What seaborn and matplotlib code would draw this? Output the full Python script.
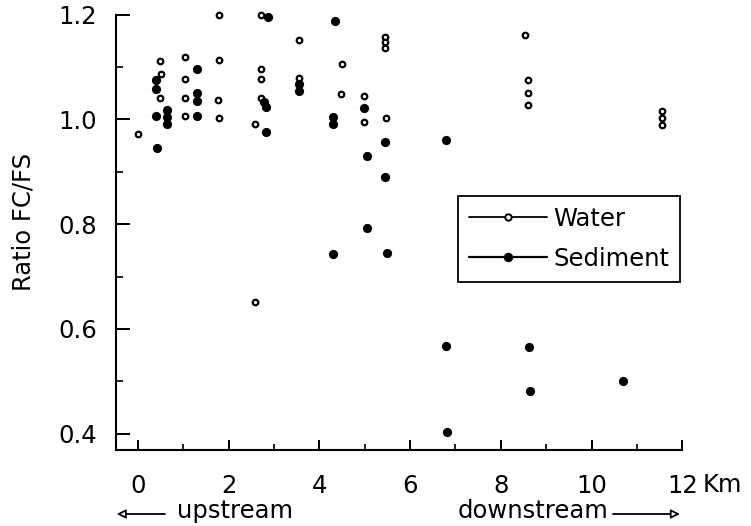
import seaborn as sns
import matplotlib.pyplot as plt
from matplotlib.lines import Line2D
from matplotlib.ticker import MultipleLocator

# distance along the river (km) and FC/FS ratio
water_km = [0.0, 0.48, 0.51, 0.48, 1.03, 1.03, 1.03, 1.03,
            1.80, 1.79, 1.77, 1.78, 2.58, 2.59, 2.71, 2.71, 2.71, 2.71,
            3.56, 3.55, 4.50, 4.47, 4.99, 4.99,
            5.45, 5.45, 5.45, 5.46, 8.54, 8.61, 8.61, 8.61,
            11.56, 11.56, 11.56]
water_ratio = [0.973, 1.112, 1.087, 1.041, 1.119, 1.078, 1.040, 1.007,
               1.199, 1.113, 1.037, 1.003, 0.991, 0.651, 1.200, 1.096, 1.077, 1.040,
               1.152, 1.080, 1.105, 1.049, 1.045, 0.995,
               1.157, 1.147, 1.136, 1.002, 1.161, 1.075, 1.051, 1.028,
               1.017, 1.003, 0.990]

sed_km = [0.39, 0.39, 0.40, 0.42, 0.65, 0.65, 0.65,
          1.31, 1.31, 1.31, 1.31, 2.86, 2.78, 2.82, 2.82,
          3.55, 3.55, 4.34, 4.31, 4.31, 4.31,
          4.99, 5.05, 5.05, 5.44, 5.44, 5.49,
          6.79, 6.80, 6.82, 8.62, 8.64, 10.69]
sed_ratio = [1.075, 1.058, 1.007, 0.945, 1.018, 1.005, 0.992,
             1.096, 1.050, 1.036, 1.007, 1.195, 1.034, 1.023, 0.976,
             1.068, 1.055, 1.188, 1.005, 0.991, 0.744,
             1.022, 0.930, 0.792, 0.956, 0.891, 0.746,
             0.961, 0.567, 0.404, 0.565, 0.481, 0.500]

x_ticks = [0, 2, 4, 6, 8, 10, 12]
x_labels = ['0', '2', '4', '6', '8', '10', '12']
y_ticks = [0.4, 0.6, 0.8, 1.0, 1.2]
y_labels = ['0.4', '0.6', '0.8', '1.0', '1.2']

sns.set_style('ticks')
plt.rcParams['font.family'] = ['DejaVu Sans']
plt.rcParams['text.color'] = 'black'
plt.rcParams['axes.labelcolor'] = 'black'
plt.rcParams['xtick.color'] = 'black'
plt.rcParams['ytick.color'] = 'black'
fs = 17.5

fig = plt.figure(figsize=(7.51, 5.26), dpi=100)
ax = fig.add_axes([0.1545, 0.1445, 0.754, 0.8276])

sns.scatterplot(x=water_km, y=water_ratio, marker='o', s=16, color='black',
                facecolor='white', edgecolor='black', linewidth=1.6,
                clip_on=False, zorder=3, ax=ax, legend=False)
sns.scatterplot(x=sed_km, y=sed_ratio, marker='o', s=44, color='black',
                edgecolor='black', linewidth=0, clip_on=False, zorder=3,
                ax=ax, legend=False)

ax.set_xlim(-0.48, 12)
ax.set_ylim(0.369, 1.2)
ax.set_xticks(x_ticks)
ax.set_xticklabels(x_labels)
ax.set_yticks(y_ticks)
ax.set_yticklabels(y_labels)
ax.xaxis.set_minor_locator(MultipleLocator(1))
ax.yaxis.set_minor_locator(MultipleLocator(0.1))

ax.tick_params(axis='x', which='major', direction='in', length=7, width=1.4,
               pad=17, labelsize=fs)
ax.tick_params(axis='x', which='minor', direction='in', length=4, width=1.2)
ax.tick_params(axis='y', which='major', direction='in', length=10, width=1.4,
               pad=13.5, labelsize=fs)
ax.tick_params(axis='y', which='minor', direction='in', length=5, width=1.2)

for s in ['top', 'right']:
    ax.spines[s].set_visible(False)
for s in ['left', 'bottom']:
    ax.spines[s].set_linewidth(1.5)
    ax.spines[s].set_color('black')

ax.set_ylabel('Ratio FC/FS', fontsize=fs)
ax.yaxis.set_label_coords(-0.142, 0.5245)

handles = [
    Line2D([], [], color='black', lw=1.3, marker='o', ms=4.6, mfc='white',
           mec='black', mew=1.4),
    Line2D([], [], color='black', lw=1.6, marker='o', ms=6.8, mfc='black',
           mec='black', mew=0),
]
leg = ax.legend(handles, ['Water', 'Sediment'], loc='center',
                bbox_to_anchor=(0.80, 0.485), fontsize=fs, frameon=True,
                fancybox=False, framealpha=1, edgecolor='black',
                handlelength=3.2, handletextpad=0.25, labelspacing=0.65,
                borderpad=0.45)
leg.get_frame().set_linewidth(1.3)

# unit and direction annotations under the x axis
fig.text(703 / 751, 1 - 492.5 / 526, 'Km', fontsize=fs, ha='left', va='baseline')
fig.text(176.7 / 751, 1 - 518 / 526, 'upstream', fontsize=fs, ha='left', va='baseline')
fig.text(608 / 751, 1 - 518 / 526, 'downstream', fontsize=fs, ha='right', va='baseline')

ya = 1 - 514 / 526
arrow = dict(arrowstyle='-|>', fc='white', ec='black', lw=1.3,
             mutation_scale=13, shrinkA=0, shrinkB=0)
ax.annotate('', xy=(116.7 / 751, ya), xytext=(165 / 751, ya),
            xycoords='figure fraction', textcoords='figure fraction',
            arrowprops=arrow, annotation_clip=False)
ax.annotate('', xy=(680 / 751, ya), xytext=(613 / 751, ya),
            xycoords='figure fraction', textcoords='figure fraction',
            arrowprops=arrow, annotation_clip=False)

fig.savefig('out.png', dpi=100)
